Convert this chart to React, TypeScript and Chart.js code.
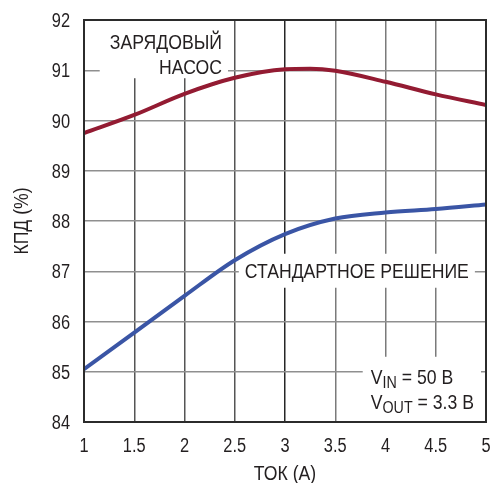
import { useEffect, useRef } from "react";
import { Chart, registerables } from "chart.js";
Chart.register(...registerables);

const pumpCurrent = [1, 1.5, 2, 2.5, 3, 3.25, 3.5, 4, 4.5, 5];
const pumpEfficiency = [89.75, 90.11, 90.53, 90.85, 91.02, 91.03, 90.99, 90.77, 90.52, 90.31];
const stdCurrent = [1, 1.5, 2, 2.5, 3, 3.5, 4, 4.5, 5];
const stdEfficiency = [85.05, 85.78, 86.51, 87.22, 87.74, 88.05, 88.17, 88.24, 88.33];

const xTickLabels = ["1", "1.5", "2", "2.5", "3", "3.5", "4", "4.5", "5"];
const yTickLabels = ["84", "85", "86", "87", "88", "89", "90", "91", "92"];

const pumpLabel = ["ЗАРЯДОВЫЙ", "НАСОС"];
const stdLabel = "СТАНДАРТНОЕ РЕШЕНИЕ";
const xTitle = "ТОК (А)";
const yTitle = "КПД (%)";

const FONT = '"Liberation Sans", Arial, sans-serif';
const TEXT = "#231f20";

function font(size: number) {
  return `${size}px ${FONT}`;
}

// draws condensed text; cy is the vertical centre of capitals
function nText(ctx: any, text: string, x: number, cy: number, size: number, align: string, sq = 0.84) {
  ctx.font = font(size);
  const w = ctx.measureText(text).width * sq;
  let left = x;
  if (align === "right") left = x - w;
  else if (align === "center") left = x - w / 2;
  ctx.save();
  ctx.translate(left, cy + 0.358 * size);
  ctx.scale(sq, 1);
  ctx.textAlign = "left";
  ctx.textBaseline = "alphabetic";
  ctx.fillText(text, 0, 0);
  ctx.restore();
  return w;
}

function nWidth(ctx: any, text: string, size: number, sq = 0.84) {
  ctx.font = font(size);
  return ctx.measureText(text).width * sq;
}

const annotations = {
  id: "annotations",
  beforeDatasetsDraw(chart: any) {
    const { ctx, chartArea, scales } = chart;
    const x = scales.x, y = scales.y;
    const S = 21;
    ctx.save();
    // group 1
    const g1Right = x.getPixelForValue(2.373);
    const g1y = [y.getPixelForValue(91.57), y.getPixelForValue(91.08)];
    const gw = Math.max(nWidth(ctx, pumpLabel[0], S), nWidth(ctx, pumpLabel[1], S));
    ctx.fillStyle = "#fff";
    ctx.fillRect(g1Right - gw - 10, chartArea.top + 1, gw + 16, g1y[1] + 11 - chartArea.top);
    // group 2
    const g2Left = x.getPixelForValue(2.6);
    const g2y = y.getPixelForValue(87.01);
    const w2 = nWidth(ctx, stdLabel, S);
    ctx.fillRect(g2Left - 6, g2y - 17, w2 + 12, 34);
    // group 3
    const g3Left = x.getPixelForValue(3.853);
    const g3y = [y.getPixelForValue(84.9), y.getPixelForValue(84.4)];
    ctx.fillRect(g3Left - 8, g3y[0] - 20, chartArea.right - 5 - (g3Left - 8), chartArea.bottom - (g3y[0] - 20));

    ctx.fillStyle = TEXT;
    nText(ctx, pumpLabel[0], g1Right, g1y[0], S, "right");
    nText(ctx, pumpLabel[1], g1Right, g1y[1], S, "right");
    nText(ctx, stdLabel, g2Left, g2y, S, "left");

    const drawSub = (main: string, sub: string, rest: string, px: number, cy: number) => {
      let p = px + nText(ctx, main, px, cy, S, "left");
      p += nText(ctx, sub, p, cy + 5, 17, "left");
      nText(ctx, rest, p, cy, S, "left");
    };
    drawSub("V", "IN", " = 50 В", g3Left, g3y[0]);
    drawSub("V", "OUT", " = 3.3 В", g3Left, g3y[1]);
    ctx.restore();
  },
  afterDraw(chart: any) {
    const { ctx, chartArea, scales } = chart;
    const x = scales.x, y = scales.y;
    ctx.save();
    ctx.strokeStyle = "#2b2b2b";
    ctx.lineWidth = 2;
    ctx.strokeRect(chartArea.left, chartArea.top, chartArea.right - chartArea.left, chartArea.bottom - chartArea.top);
    ctx.fillStyle = TEXT;
    xTickLabels.forEach((t) => {
      nText(ctx, t, x.getPixelForValue(parseFloat(t)), chartArea.bottom + 23, 20, "center", 0.82);
    });
    yTickLabels.forEach((t) => {
      nText(ctx, t, chartArea.left - 14, y.getPixelForValue(parseFloat(t)), 20, "right", 0.82);
    });
    nText(ctx, xTitle, (chartArea.left + chartArea.right) / 2, 472, 21, "center");
    ctx.translate(20, (chartArea.top + chartArea.bottom) / 2);
    ctx.rotate(-Math.PI / 2);
    nText(ctx, yTitle, 0, 0, 21, "center");
    ctx.restore();
  },
};

export default function App() {
  const ref = useRef<HTMLCanvasElement>(null);
  useEffect(() => {
    if (!ref.current) return;
    const chart = new Chart(ref.current, {
      type: "line",
      data: {
        datasets: [
          {
            data: pumpCurrent.map((v, i) => ({ x: v, y: pumpEfficiency[i] })),
            borderColor: "#931b32",
            borderWidth: 4,
            pointRadius: 0,
            cubicInterpolationMode: "monotone",
          },
          {
            data: stdCurrent.map((v, i) => ({ x: v, y: stdEfficiency[i] })),
            borderColor: "#3a55a5",
            borderWidth: 4,
            pointRadius: 0,
            cubicInterpolationMode: "monotone",
          },
        ],
      },
      options: {
        animation: false,
        responsive: false,
        maintainAspectRatio: false,
        layout: { padding: { top: 20, right: 6, left: 0, bottom: 0 } },
        plugins: { legend: { display: false }, tooltip: { enabled: false } },
        scales: {
          x: {
            type: "linear",
            min: 1,
            max: 5,
            ticks: { stepSize: 0.5, display: false },
            grid: {
              drawTicks: false,
              lineWidth: 1.5,
              color: (c: any) => {
                const v = c.tick ? c.tick.value : 0;
                if (v === 3) return "#262626";
                if (v < 3) return "#555";
                return "#7a7a7a";
              },
            },
            border: { display: false },
            afterFit: (s: any) => { s.height = 61; },
          },
          y: {
            min: 84,
            max: 92,
            ticks: { stepSize: 1, display: false },
            grid: { drawTicks: false, lineWidth: 1.5, color: "#8f8f8f" },
            border: { display: false },
            afterFit: (s: any) => { s.width = 84; },
          },
        },
      },
      plugins: [annotations],
    } as any);
    return () => chart.destroy();
  }, []);
  return (
    <div style={{ position: "fixed", left: 0, top: 0, width: 492, height: 483, background: "#fff" }}>
      <canvas ref={ref} width={492} height={483} style={{ width: 492, height: 483 }} />
    </div>
  );
}
